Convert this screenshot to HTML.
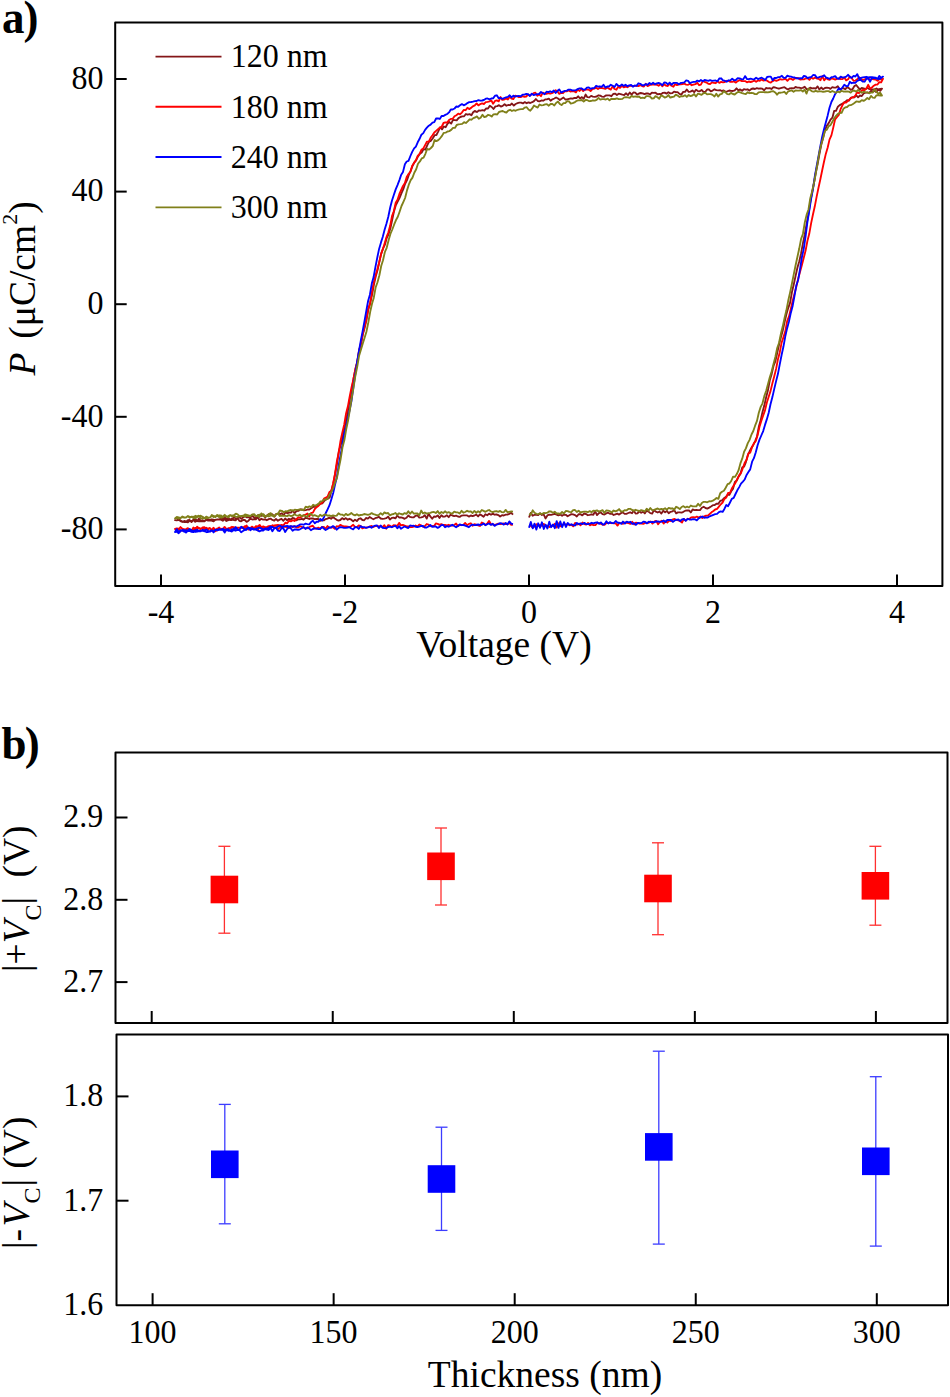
<!DOCTYPE html>
<html><head><meta charset="utf-8"><style>
html,body{margin:0;padding:0;background:#fff;}
svg{display:block;}
text{font-family:"Liberation Serif",serif;fill:#000;}
</style></head><body>
<svg width="950" height="1397" viewBox="0 0 950 1397">
<rect width="950" height="1397" fill="#fff"/>
<rect x="115.2" y="22.6" width="827.1999999999999" height="563.4" fill="none" stroke="#000" stroke-width="2" stroke-linejoin="round"/>
<line x1="115.2" y1="79" x2="126.7" y2="79" stroke="#000" stroke-width="2"/>
<text transform="translate(103.5 88.8) scale(1 1.070)" font-size="32" text-anchor="end" >80</text>
<line x1="115.2" y1="191.6" x2="126.7" y2="191.6" stroke="#000" stroke-width="2"/>
<text transform="translate(103.5 201.4) scale(1 1.070)" font-size="32" text-anchor="end" >40</text>
<line x1="115.2" y1="304.2" x2="126.7" y2="304.2" stroke="#000" stroke-width="2"/>
<text transform="translate(103.5 314.0) scale(1 1.070)" font-size="32" text-anchor="end" >0</text>
<line x1="115.2" y1="416.8" x2="126.7" y2="416.8" stroke="#000" stroke-width="2"/>
<text transform="translate(103.5 426.6) scale(1 1.070)" font-size="32" text-anchor="end" >-40</text>
<line x1="115.2" y1="529.4" x2="126.7" y2="529.4" stroke="#000" stroke-width="2"/>
<text transform="translate(103.5 539.2) scale(1 1.070)" font-size="32" text-anchor="end" >-80</text>
<line x1="161" y1="586" x2="161" y2="574.5" stroke="#000" stroke-width="2"/>
<text transform="translate(161.0 622.5) scale(1 1.070)" font-size="32" text-anchor="middle" >-4</text>
<line x1="345" y1="586" x2="345" y2="574.5" stroke="#000" stroke-width="2"/>
<text transform="translate(345.0 622.5) scale(1 1.070)" font-size="32" text-anchor="middle" >-2</text>
<line x1="529" y1="586" x2="529" y2="574.5" stroke="#000" stroke-width="2"/>
<text transform="translate(529.0 622.5) scale(1 1.070)" font-size="32" text-anchor="middle" >0</text>
<line x1="713" y1="586" x2="713" y2="574.5" stroke="#000" stroke-width="2"/>
<text transform="translate(713.0 622.5) scale(1 1.070)" font-size="32" text-anchor="middle" >2</text>
<line x1="897" y1="586" x2="897" y2="574.5" stroke="#000" stroke-width="2"/>
<text transform="translate(897.0 622.5) scale(1 1.070)" font-size="32" text-anchor="middle" >4</text>
<text x="504.0" y="657.0" font-size="37.5" text-anchor="middle" >Voltage (V)</text>
<text transform="translate(34.8,375.5) rotate(-90)" font-size="37.5"><tspan font-style="italic">P</tspan><tspan dx="4.5"> (μC/cm</tspan><tspan font-size="22" dy="-18">2</tspan><tspan dy="18">)</tspan></text>
<text transform="translate(2 33.4) scale(1 1.04)" font-size="45" font-weight="bold" letter-spacing="-1">a)</text>
<line x1="155.5" y1="56.6" x2="221.5" y2="56.6" stroke="#841618" stroke-width="1.9"/>
<text transform="translate(230.7 67.3) scale(1 1.070)" font-size="32" text-anchor="start" >120 nm</text>
<line x1="155.5" y1="106.8" x2="221.5" y2="106.8" stroke="#ff0000" stroke-width="1.9"/>
<text transform="translate(230.7 117.5) scale(1 1.070)" font-size="32" text-anchor="start" >180 nm</text>
<line x1="155.5" y1="157" x2="221.5" y2="157" stroke="#0000ff" stroke-width="1.9"/>
<text transform="translate(230.7 167.7) scale(1 1.070)" font-size="32" text-anchor="start" >240 nm</text>
<line x1="155.5" y1="207.4" x2="221.5" y2="207.4" stroke="#80801a" stroke-width="1.9"/>
<text transform="translate(230.7 218.1) scale(1 1.070)" font-size="32" text-anchor="start" >300 nm</text>
<path d="M529.0 517.5L530.8 512.9L532.7 515.8L534.5 514.8L536.4 514.9L538.2 515.1L540.0 513.3L541.9 515.0L543.7 514.3L545.5 518.5L547.4 515.4L549.2 514.7L551.1 514.8L552.9 514.4L554.7 513.9L556.6 514.6L558.4 515.4L560.3 514.6L562.1 515.8L563.9 514.6L565.8 514.8L567.6 516.3L569.4 515.2L571.3 514.1L573.1 514.4L575.0 515.1L576.8 516.5L578.6 514.2L580.5 514.2L582.3 515.4L584.2 513.5L586.0 514.0L587.8 515.2L589.7 514.8L591.5 514.3L593.3 514.8L595.2 511.3L597.0 515.1L598.9 513.1L600.7 512.3L602.5 514.2L604.4 514.6L606.2 513.4L608.1 512.7L609.9 513.8L611.7 513.6L613.6 515.0L615.4 514.3L617.2 513.7L619.1 514.6L620.9 513.2L622.8 512.4L624.6 513.9L626.4 513.8L628.3 513.0L630.1 512.3L632.0 513.3L633.8 510.5L635.6 513.6L637.5 513.4L639.3 511.2L641.2 512.8L643.0 511.7L644.8 513.4L646.7 510.5L648.5 511.6L650.3 513.1L652.2 513.5L654.0 510.1L655.9 511.7L657.7 512.5L659.5 511.5L661.4 513.6L663.2 510.8L665.1 512.3L666.9 510.9L668.7 513.3L670.6 511.8L672.4 511.4L674.2 510.0L676.1 513.4L677.9 512.4L679.8 512.3L681.6 512.6L683.4 511.8L685.3 510.7L687.1 510.5L689.0 510.4L690.8 512.4L692.6 509.5L694.5 510.1L696.3 510.0L698.1 510.2L700.0 510.1L701.8 507.8L703.7 506.8L705.5 508.0L707.3 508.6L709.2 507.6L711.0 506.5L712.9 505.2L714.7 505.1L716.5 503.7L718.4 503.7L720.2 500.9L722.0 500.3L723.9 498.3L725.7 497.1L727.6 494.7L729.4 494.9L731.2 491.3L733.1 488.6L734.9 482.1L736.8 480.6L738.6 476.7L740.4 474.0L742.3 467.3L744.1 466.6L745.9 462.1L747.8 455.3L749.6 451.3L751.5 447.7L753.3 444.9L755.1 441.1L757.0 436.5L758.8 426.8L760.7 420.1L762.5 411.9L764.3 405.6L766.2 397.0L768.0 390.1L769.8 380.3L771.7 373.9L773.5 366.0L775.4 361.1L777.2 353.0L779.0 344.8L780.9 337.3L782.7 330.7L784.6 322.0L786.4 314.2L788.2 308.1L790.1 302.6L791.9 292.3L793.8 284.3L795.6 275.9L797.4 267.7L799.3 261.3L801.1 253.2L802.9 243.4L804.8 234.2L806.6 224.1L808.5 213.8L810.3 201.8L812.1 192.6L814.0 183.0L815.8 172.5L817.7 163.5L819.5 153.5L821.3 144.6L823.2 137.5L825.0 130.0L826.8 125.8L828.7 123.1L830.5 119.7L832.4 117.7L834.2 110.8L836.0 110.8L837.9 106.7L839.7 105.1L841.6 104.1L843.4 103.0L845.2 101.9L847.1 100.1L848.9 100.7L850.7 97.9L852.6 97.2L854.4 97.4L856.3 95.3L858.1 97.3L859.9 95.5L861.8 96.1L863.6 93.4L865.5 92.6L867.3 92.7L869.1 92.8L871.0 91.1L872.8 91.6L874.6 90.9L876.5 92.1L878.3 89.4L880.2 90.8L882.0 88.7L880.2 88.8L878.3 89.7L876.5 88.5L874.6 89.4L872.8 89.4L871.0 89.7L869.1 89.0L867.3 87.8L865.4 89.2L863.6 88.4L861.7 88.0L859.9 89.5L858.1 87.3L856.2 85.0L854.4 86.1L852.5 89.2L850.7 89.9L848.9 88.1L847.0 87.2L845.2 89.3L843.3 88.1L841.5 88.7L839.7 89.4L837.8 86.3L836.0 87.6L834.1 87.6L832.3 87.1L830.4 88.9L828.6 87.8L826.8 87.6L824.9 88.0L823.1 89.2L821.2 87.5L819.4 89.5L817.6 86.4L815.7 88.7L813.9 88.2L812.0 88.3L810.2 87.6L808.4 89.6L806.5 89.0L804.7 86.7L802.8 87.9L801.0 88.2L799.1 87.7L797.3 87.6L795.5 87.0L793.6 88.4L791.8 88.2L789.9 88.3L788.1 89.5L786.3 88.6L784.4 87.2L782.6 87.6L780.7 88.1L778.9 88.7L777.1 88.2L775.2 87.5L773.4 87.1L771.5 89.0L769.7 88.1L767.8 88.4L766.0 88.0L764.2 90.3L762.3 88.7L760.5 88.5L758.6 88.7L756.8 88.2L755.0 89.0L753.1 88.5L751.3 89.0L749.4 90.6L747.6 89.3L745.8 89.6L743.9 89.2L742.1 90.8L740.2 89.4L738.4 90.3L736.5 88.3L734.7 90.3L732.9 91.0L731.0 90.9L729.2 90.5L727.3 91.3L725.5 91.8L723.7 90.5L721.8 91.0L720.0 90.2L718.1 90.3L716.3 90.2L714.5 89.3L712.6 90.6L710.8 91.3L708.9 89.4L707.1 89.5L705.2 92.0L703.4 91.9L701.6 89.9L699.7 91.3L697.9 91.1L696.0 89.8L694.2 92.2L692.4 90.5L690.5 91.6L688.7 91.9L686.8 89.5L685.0 91.9L683.2 91.9L681.3 94.6L679.5 93.9L677.6 92.1L675.8 92.2L674.0 91.7L672.1 93.2L670.3 93.4L668.4 92.2L666.6 93.6L664.7 92.6L662.9 92.8L661.1 94.2L659.2 94.0L657.4 94.3L655.5 92.7L653.7 92.8L651.9 92.6L650.0 94.5L648.2 93.5L646.3 93.5L644.5 94.1L642.7 93.3L640.8 93.0L639.0 93.5L637.1 94.6L635.3 92.7L633.4 92.5L631.6 94.7L629.8 92.5L627.9 95.1L626.1 93.3L624.2 95.0L622.4 94.7L620.6 94.1L618.7 93.7L616.9 95.0L615.0 93.6L613.2 94.0L611.4 96.2L609.5 95.4L607.7 95.4L605.8 95.5L604.0 96.8L602.1 96.7L600.3 95.6L598.5 95.3L596.6 96.5L594.8 96.8L592.9 96.6L591.1 95.9L589.3 97.4L587.4 97.2L585.6 94.6L583.7 98.8L581.9 97.1L580.1 98.5L578.2 96.3L576.4 98.0L574.5 97.9L572.7 98.7L570.8 98.4L569.0 98.8L567.2 99.4L565.3 99.5L563.5 97.5L561.6 98.8L559.8 100.0L558.0 98.5L556.1 97.5L554.3 98.5L552.4 99.3L550.6 100.7L548.8 98.6L546.9 99.3L545.1 99.4L543.2 100.7L541.4 100.5L539.5 101.3L537.7 101.0L535.9 99.0L534.0 101.1L532.2 102.2L530.3 103.0L528.5 102.4L526.7 103.2L524.8 102.1L523.0 103.4L521.1 102.6L519.3 102.6L517.5 103.2L515.6 104.0L513.8 105.6L511.9 103.5L510.1 105.2L508.2 105.0L506.4 105.7L504.6 104.2L502.7 105.9L500.9 106.6L499.0 105.2L497.2 106.1L495.4 106.4L493.5 109.0L491.7 107.0L489.8 105.7L488.0 108.6L486.2 108.4L484.3 110.7L482.5 110.1L480.6 110.7L478.8 110.5L476.9 112.1L475.1 110.9L473.3 112.0L471.4 115.2L469.6 114.1L467.7 114.7L465.9 114.0L464.1 116.3L462.2 116.4L460.4 117.0L458.5 118.1L456.7 120.4L454.9 120.1L453.0 119.9L451.2 123.6L449.3 122.0L447.5 123.8L445.6 127.2L443.8 126.5L442.0 129.4L440.1 127.2L438.3 131.3L436.4 135.0L434.6 135.2L432.8 138.3L430.9 140.8L429.1 141.6L427.2 145.3L425.4 149.7L423.6 149.1L421.7 152.5L419.9 153.7L418.0 156.4L416.2 160.1L414.3 162.3L412.5 166.0L410.7 170.9L408.8 174.9L407.0 180.1L405.1 183.8L403.3 189.2L401.5 193.1L399.6 197.8L397.8 201.3L395.9 205.0L394.1 210.9L392.3 219.2L390.4 228.2L388.6 234.0L386.7 238.1L384.9 244.7L383.0 248.6L381.2 253.6L379.4 261.6L377.5 270.3L375.7 276.6L373.8 285.0L372.0 295.0L370.2 302.9L368.3 309.5L366.5 319.7L364.6 328.1L362.8 334.5L361.0 344.3L359.1 349.9L357.3 361.8L355.4 369.1L353.6 378.1L351.8 389.9L349.9 398.9L348.1 409.7L346.2 420.3L344.4 427.3L342.5 437.9L340.7 445.0L338.9 451.0L337.0 463.6L335.2 473.5L333.3 483.5L331.5 490.4L329.7 497.5L327.8 498.6L326.0 499.3L324.1 501.1L322.3 503.3L320.5 503.8L318.6 504.0L316.8 505.7L314.9 506.8L313.1 506.9L311.2 508.3L309.4 509.5L307.6 509.5L305.7 510.2L303.9 510.3L302.0 509.4L300.2 509.5L298.4 510.9L296.5 511.0L294.7 513.2L292.8 510.6L291.0 512.6L289.2 512.4L287.3 513.3L285.5 512.3L283.6 515.3L281.8 513.3L279.9 514.1L278.1 514.0L276.3 513.9L274.4 516.6L272.6 514.5L270.7 514.0L268.9 514.1L267.1 515.5L265.2 517.3L263.4 515.2L261.5 515.9L259.7 515.6L257.9 515.3L256.0 517.4L254.2 517.5L252.3 515.8L250.5 517.4L248.6 517.3L246.8 517.4L245.0 516.1L243.1 517.5L241.3 518.7L239.4 517.3L237.6 518.3L235.8 518.8L233.9 516.8L232.1 520.1L230.2 520.1L228.4 517.9L226.6 519.0L224.7 517.2L222.9 519.2L221.0 518.6L219.2 519.4L217.3 519.5L215.5 519.8L213.7 519.6L211.8 519.3L210.0 520.3L208.1 519.2L206.3 520.0L204.5 521.3L202.6 520.2L200.8 520.9L198.9 518.6L197.1 521.2L195.3 518.9L193.4 520.3L191.6 520.8L189.7 520.9L187.9 522.4L186.0 521.4L184.2 521.0L182.4 522.0L180.5 521.1L178.7 519.9L176.8 520.4L175.0 520.2L176.8 520.4L178.7 518.9L180.5 520.6L182.3 521.4L184.2 522.0L186.0 522.0L187.9 520.1L189.7 520.0L191.5 522.1L193.4 519.6L195.2 521.8L197.0 520.4L198.9 521.4L200.7 521.2L202.6 521.3L204.4 521.3L206.2 519.4L208.1 520.6L209.9 520.3L211.7 520.6L213.6 521.4L215.4 519.9L217.2 519.4L219.1 519.3L220.9 519.7L222.8 520.7L224.6 519.1L226.4 521.0L228.3 520.1L230.1 519.6L231.9 518.4L233.8 520.0L235.6 520.4L237.5 517.9L239.3 520.8L241.1 521.3L243.0 519.9L244.8 520.0L246.6 521.9L248.5 520.7L250.3 518.6L252.2 519.5L254.0 519.3L255.8 519.3L257.7 517.1L259.5 520.2L261.3 518.8L263.2 519.6L265.0 519.3L266.8 520.2L268.7 519.1L270.5 518.6L272.4 519.9L274.2 520.7L276.0 519.0L277.9 520.7L279.7 519.6L281.5 518.8L283.4 520.8L285.2 518.5L287.1 520.3L288.9 518.8L290.7 519.7L292.6 518.0L294.4 518.4L296.2 520.3L298.1 519.4L299.9 519.3L301.8 518.8L303.6 519.7L305.4 517.8L307.3 518.1L309.1 519.0L310.9 518.4L312.8 518.5L314.6 519.1L316.4 519.0L318.3 518.9L320.1 520.8L322.0 520.1L323.8 520.4L325.6 519.1L327.5 518.6L329.3 517.6L331.1 518.7L333.0 517.0L334.8 518.5L336.7 519.8L338.5 520.6L340.3 520.0L342.2 518.1L344.0 519.4L345.8 518.1L347.7 519.7L349.5 518.8L351.3 519.7L353.2 521.4L355.0 519.7L356.9 521.1L358.7 518.9L360.5 518.3L362.4 520.0L364.2 520.3L366.0 518.0L367.9 518.6L369.7 517.0L371.6 518.2L373.4 519.2L375.2 518.2L377.1 517.7L378.9 516.8L380.7 518.5L382.6 518.9L384.4 518.6L386.2 518.2L388.1 516.6L389.9 519.6L391.8 517.8L393.6 517.6L395.4 518.4L397.3 515.5L399.1 517.5L400.9 517.4L402.8 517.9L404.6 518.8L406.5 517.8L408.3 515.5L410.1 516.9L412.0 517.4L413.8 517.3L415.6 515.8L417.5 515.4L419.3 517.6L421.2 517.3L423.0 516.9L424.8 515.2L426.7 518.6L428.5 513.9L430.3 516.4L432.2 518.8L434.0 516.5L435.8 516.8L437.7 515.4L439.5 517.9L441.4 515.2L443.2 516.7L445.0 516.5L446.9 515.3L448.7 517.2L450.5 514.8L452.4 515.5L454.2 516.1L456.1 515.7L457.9 516.5L459.7 516.9L461.6 515.6L463.4 515.3L465.2 515.3L467.1 515.4L468.9 516.6L470.8 515.5L472.6 516.1L474.4 515.5L476.3 514.7L478.1 516.4L479.9 514.4L481.8 515.4L483.6 516.8L485.4 514.2L487.3 515.2L489.1 513.6L491.0 514.7L492.8 513.6L494.6 514.7L496.5 514.5L498.3 515.1L500.1 516.5L502.0 515.2L503.8 515.5L505.7 514.7L507.5 514.5L509.3 513.9L511.2 512.8L513.0 514.7" fill="none" stroke="#841618" stroke-width="1.85" stroke-linejoin="round"/>
<path d="M529.0 525.3L530.8 525.8L532.7 527.6L534.5 526.5L536.4 524.2L538.2 525.7L540.1 525.1L541.9 525.8L543.8 524.0L545.6 525.8L547.4 525.7L549.3 527.0L551.1 525.7L553.0 525.8L554.8 523.8L556.7 527.5L558.5 523.3L560.3 526.2L562.2 524.8L564.0 524.2L565.9 524.3L567.7 524.3L569.6 525.3L571.4 524.7L573.2 526.3L575.1 522.9L576.9 524.7L578.8 523.7L580.6 525.3L582.5 522.4L584.3 524.1L586.2 524.6L588.0 522.9L589.8 525.3L591.7 524.4L593.5 525.2L595.4 525.1L597.2 523.1L599.1 523.2L600.9 523.8L602.8 524.7L604.6 524.7L606.4 523.1L608.3 523.2L610.1 522.9L612.0 523.1L613.8 523.4L615.7 523.4L617.5 525.6L619.3 523.0L621.2 523.1L623.0 523.8L624.9 522.4L626.7 522.9L628.6 523.2L630.4 523.9L632.2 521.8L634.1 524.4L635.9 522.6L637.8 523.1L639.6 523.7L641.5 523.5L643.3 523.8L645.2 522.9L647.0 522.6L648.8 522.8L650.7 521.5L652.5 523.6L654.4 521.5L656.2 520.9L658.1 524.2L659.9 521.9L661.8 520.7L663.6 523.6L665.4 521.3L667.3 522.6L669.1 520.6L671.0 521.0L672.8 519.4L674.7 519.0L676.5 519.8L678.3 520.5L680.2 521.2L682.0 522.6L683.9 518.9L685.7 520.7L687.6 518.8L689.4 519.0L691.2 517.4L693.1 517.1L694.9 517.5L696.8 516.7L698.6 517.5L700.5 516.5L702.3 518.0L704.2 516.3L706.0 515.6L707.8 515.6L709.7 514.0L711.5 512.3L713.4 511.0L715.2 509.5L717.1 508.9L718.9 506.7L720.8 504.3L722.6 502.5L724.4 498.9L726.3 497.5L728.1 492.9L730.0 492.8L731.8 488.5L733.7 485.6L735.5 482.8L737.3 478.8L739.2 475.1L741.0 472.9L742.9 468.0L744.7 462.8L746.6 459.8L748.4 453.4L750.2 452.6L752.1 447.0L753.9 443.3L755.8 441.0L757.6 435.2L759.5 426.8L761.3 420.9L763.2 415.4L765.0 410.4L766.8 402.7L768.7 396.7L770.5 391.1L772.4 383.2L774.2 376.5L776.1 368.9L777.9 359.6L779.8 352.2L781.6 342.7L783.4 337.4L785.3 331.4L787.1 321.4L789.0 316.4L790.8 308.9L792.7 300.8L794.5 293.7L796.3 286.8L798.2 278.7L800.0 272.1L801.9 265.0L803.7 258.1L805.6 250.6L807.4 241.0L809.2 234.1L811.1 223.4L812.9 214.8L814.8 206.3L816.6 196.9L818.5 187.8L820.3 179.5L822.2 170.2L824.0 161.7L825.8 153.9L827.7 147.5L829.5 139.6L831.4 135.4L833.2 127.9L835.1 119.3L836.9 117.1L838.8 114.9L840.6 109.2L842.4 105.3L844.3 102.3L846.1 102.6L848.0 100.8L849.8 99.1L851.7 97.7L853.5 97.4L855.3 95.6L857.2 92.3L859.0 93.1L860.9 91.3L862.7 90.0L864.6 90.0L866.4 88.5L868.2 84.8L870.1 88.7L871.9 87.5L873.8 85.7L875.6 84.6L877.5 84.5L879.3 82.1L881.2 82.3L883.0 78.8L881.2 79.3L879.3 79.2L877.5 80.7L875.6 79.5L873.8 79.4L872.0 78.8L870.1 79.9L868.3 78.3L866.4 78.7L864.6 79.4L862.8 80.1L860.9 78.8L859.1 77.3L857.3 79.3L855.4 80.6L853.6 80.8L851.7 78.2L849.9 76.6L848.1 79.3L846.2 80.4L844.4 77.5L842.5 79.1L840.7 79.2L838.9 78.3L837.0 78.9L835.2 79.5L833.3 78.9L831.5 78.2L829.7 79.8L827.8 79.3L826.0 78.1L824.2 80.3L822.3 76.1L820.5 80.2L818.6 78.8L816.8 78.5L815.0 77.6L813.1 78.7L811.3 77.5L809.4 79.8L807.6 78.0L805.8 78.5L803.9 79.3L802.1 79.4L800.2 79.5L798.4 78.2L796.6 78.0L794.7 78.5L792.9 79.9L791.1 78.8L789.2 78.8L787.4 80.8L785.5 78.9L783.7 79.4L781.9 79.6L780.0 79.2L778.2 80.1L776.3 80.8L774.5 80.0L772.7 81.1L770.8 82.5L769.0 82.1L767.1 80.7L765.3 80.1L763.5 80.6L761.6 79.5L759.8 80.8L758.0 80.4L756.1 81.8L754.3 80.6L752.4 81.5L750.6 82.0L748.8 81.5L746.9 82.3L745.1 81.1L743.2 81.1L741.4 81.0L739.6 80.2L737.7 81.1L735.9 82.6L734.0 81.4L732.2 81.9L730.4 81.9L728.5 80.9L726.7 80.8L724.8 82.0L723.0 82.3L721.2 81.9L719.3 82.9L717.5 81.1L715.7 83.2L713.8 82.8L712.0 82.4L710.1 84.0L708.3 83.8L706.5 82.5L704.6 81.9L702.8 81.0L700.9 84.6L699.1 85.2L697.3 82.7L695.4 84.2L693.6 84.7L691.7 85.2L689.9 83.8L688.1 84.8L686.2 84.7L684.4 83.6L682.6 84.0L680.7 84.4L678.9 84.3L677.0 85.1L675.2 84.1L673.4 86.8L671.5 85.8L669.7 83.6L667.8 86.0L666.0 85.7L664.2 84.3L662.3 86.3L660.5 84.0L658.6 85.8L656.8 84.8L655.0 84.7L653.1 84.3L651.3 84.6L649.5 85.1L647.6 86.1L645.8 83.7L643.9 86.6L642.1 86.0L640.3 85.1L638.4 86.1L636.6 85.8L634.7 85.8L632.9 86.2L631.1 85.9L629.2 85.9L627.4 87.2L625.5 86.6L623.7 87.4L621.9 85.8L620.0 87.9L618.2 86.8L616.4 89.7L614.5 89.0L612.7 86.2L610.8 89.6L609.0 88.7L607.2 87.4L605.3 88.9L603.5 88.3L601.6 88.0L599.8 87.8L598.0 89.1L596.1 87.7L594.3 88.6L592.4 89.2L590.6 91.0L588.8 89.7L586.9 89.6L585.1 89.4L583.2 91.1L581.4 88.7L579.6 91.0L577.7 89.6L575.9 92.4L574.1 91.3L572.2 91.0L570.4 91.5L568.5 90.4L566.7 91.3L564.9 91.1L563.0 93.2L561.2 92.8L559.3 93.9L557.5 91.4L555.7 90.2L553.8 92.2L552.0 93.1L550.1 93.7L548.3 93.2L546.5 93.9L544.6 93.5L542.8 92.6L541.0 96.2L539.1 94.4L537.3 95.8L535.4 92.6L533.6 93.2L531.8 94.2L529.9 95.6L528.1 94.7L526.2 96.5L524.4 96.9L522.6 96.2L520.7 97.1L518.9 97.2L517.0 96.2L515.2 95.7L513.4 99.1L511.5 98.5L509.7 96.8L507.9 99.5L506.0 98.4L504.2 99.6L502.3 99.9L500.5 97.0L498.7 101.4L496.8 100.4L495.0 100.9L493.1 103.8L491.3 100.4L489.5 101.4L487.6 101.9L485.8 102.2L483.9 104.0L482.1 103.4L480.3 104.1L478.4 105.4L476.6 103.4L474.8 105.4L472.9 106.3L471.1 107.9L469.2 109.1L467.4 107.7L465.6 110.2L463.7 109.9L461.9 112.6L460.0 114.3L458.2 113.6L456.4 115.2L454.5 116.3L452.7 118.8L450.8 118.9L449.0 120.1L447.2 122.5L445.3 122.4L443.5 123.0L441.6 127.0L439.8 127.8L438.0 129.3L436.1 130.9L434.3 132.5L432.5 135.3L430.6 137.8L428.8 141.6L426.9 141.7L425.1 145.1L423.3 148.4L421.4 149.8L419.6 153.9L417.7 155.9L415.9 160.4L414.1 163.0L412.2 165.8L410.4 171.8L408.5 174.0L406.7 177.0L404.9 183.1L403.0 186.0L401.2 190.0L399.4 194.0L397.5 199.7L395.7 202.8L393.8 211.3L392.0 216.1L390.2 225.6L388.3 232.5L386.5 237.1L384.6 243.4L382.8 249.3L381.0 254.4L379.1 262.7L377.3 269.6L375.4 276.0L373.6 283.5L371.8 292.8L369.9 304.3L368.1 309.1L366.3 319.6L364.4 326.9L362.6 334.7L360.7 344.0L358.9 352.5L357.1 362.6L355.2 370.0L353.4 379.4L351.5 387.5L349.7 396.5L347.9 406.3L346.0 413.8L344.2 424.7L342.3 432.8L340.5 440.9L338.7 452.6L336.8 461.8L335.0 474.0L333.2 483.2L331.3 490.7L329.5 491.9L327.6 496.6L325.8 497.7L324.0 498.6L322.1 502.7L320.3 503.8L318.4 506.0L316.6 507.1L314.8 509.0L312.9 512.7L311.1 513.0L309.2 516.5L307.4 513.5L305.6 514.7L303.7 515.3L301.9 516.6L300.0 517.5L298.2 517.3L296.4 519.1L294.5 521.0L292.7 520.2L290.9 521.4L289.0 520.8L287.2 523.3L285.3 522.7L283.5 525.3L281.7 524.9L279.8 525.3L278.0 525.0L276.1 525.1L274.3 525.3L272.5 526.8L270.6 526.0L268.8 526.1L266.9 526.8L265.1 527.3L263.3 526.4L261.4 527.4L259.6 524.9L257.8 526.5L255.9 526.2L254.1 528.3L252.2 526.6L250.4 528.0L248.6 528.4L246.7 526.3L244.9 526.1L243.0 528.0L241.2 527.6L239.4 527.6L237.5 527.6L235.7 527.8L233.8 527.1L232.0 526.8L230.2 527.8L228.3 528.6L226.5 530.3L224.7 530.0L222.8 528.6L221.0 528.9L219.1 528.6L217.3 528.5L215.5 530.2L213.6 527.7L211.8 529.9L209.9 528.1L208.1 529.5L206.3 528.9L204.4 527.2L202.6 527.4L200.7 529.2L198.9 528.5L197.1 526.7L195.2 530.1L193.4 527.4L191.6 530.6L189.7 529.8L187.9 528.2L186.0 529.1L184.2 529.7L182.4 530.6L180.5 530.4L178.7 528.6L176.8 528.4L175.0 529.0L176.8 530.3L178.7 529.4L180.5 527.1L182.3 528.7L184.2 529.3L186.0 531.3L187.9 529.8L189.7 530.0L191.5 529.9L193.4 530.4L195.2 527.9L197.0 528.2L198.9 527.8L200.7 528.6L202.6 528.5L204.4 529.0L206.2 527.8L208.1 528.9L209.9 527.9L211.7 530.8L213.6 528.1L215.4 531.2L217.2 530.2L219.1 527.4L220.9 529.5L222.8 529.1L224.6 526.9L226.4 529.0L228.3 528.3L230.1 528.7L231.9 527.5L233.8 528.2L235.6 528.7L237.5 528.0L239.3 527.6L241.1 528.0L243.0 527.2L244.8 528.4L246.6 525.5L248.5 529.6L250.3 528.1L252.2 528.5L254.0 528.8L255.8 526.7L257.7 530.2L259.5 526.8L261.3 528.3L263.2 528.2L265.0 529.1L266.8 527.8L268.7 526.4L270.5 528.1L272.4 525.3L274.2 527.5L276.0 527.2L277.9 529.3L279.7 527.4L281.5 527.2L283.4 526.9L285.2 526.8L287.1 527.0L288.9 528.2L290.7 526.2L292.6 527.3L294.4 526.1L296.2 527.3L298.1 527.6L299.9 526.2L301.8 526.9L303.6 527.5L305.4 528.2L307.3 528.3L309.1 527.3L310.9 526.3L312.8 525.7L314.6 528.1L316.4 528.7L318.3 527.6L320.1 528.8L322.0 526.8L323.8 526.8L325.6 528.8L327.5 526.1L329.3 527.7L331.1 527.5L333.0 527.2L334.8 528.8L336.7 526.2L338.5 526.6L340.3 524.9L342.2 525.9L344.0 526.4L345.8 526.5L347.7 526.7L349.5 527.2L351.3 526.2L353.2 524.8L355.0 526.9L356.9 527.2L358.7 525.5L360.5 525.9L362.4 528.4L364.2 527.6L366.0 527.7L367.9 527.2L369.7 526.6L371.6 526.0L373.4 527.0L375.2 526.2L377.1 525.9L378.9 526.3L380.7 526.2L382.6 527.1L384.4 525.2L386.2 528.7L388.1 525.1L389.9 525.7L391.8 527.0L393.6 525.2L395.4 525.5L397.3 526.0L399.1 522.9L400.9 525.4L402.8 524.9L404.6 525.6L406.5 526.3L408.3 526.4L410.1 527.2L412.0 527.1L413.8 526.7L415.6 525.5L417.5 526.6L419.3 524.5L421.2 525.4L423.0 526.9L424.8 526.2L426.7 524.0L428.5 524.7L430.3 526.2L432.2 525.9L434.0 526.3L435.8 523.4L437.7 523.9L439.5 524.9L441.4 524.1L443.2 525.0L445.0 525.0L446.9 525.3L448.7 524.8L450.5 525.5L452.4 525.7L454.2 525.0L456.1 523.6L457.9 526.1L459.7 525.0L461.6 525.1L463.4 524.9L465.2 523.0L467.1 525.2L468.9 523.9L470.8 523.3L472.6 525.8L474.4 524.2L476.3 524.7L478.1 525.3L479.9 526.0L481.8 522.5L483.6 523.5L485.4 524.9L487.3 523.5L489.1 520.9L491.0 524.3L492.8 524.3L494.6 524.9L496.5 524.3L498.3 523.6L500.1 524.2L502.0 523.9L503.8 523.4L505.7 524.1L507.5 524.2L509.3 522.8L511.2 524.8L513.0 524.6" fill="none" stroke="#ff0000" stroke-width="1.85" stroke-linejoin="round"/>
<path d="M529.0 527.8L530.8 522.0L532.7 528.3L534.5 523.7L536.4 529.6L538.2 523.3L540.1 527.8L541.9 522.3L543.8 529.0L545.6 524.7L547.4 528.5L549.3 521.7L551.1 527.2L553.0 524.5L554.8 528.2L556.7 521.1L558.5 527.9L560.3 521.5L562.2 527.2L564.0 522.1L565.9 527.0L567.7 523.0L569.6 524.9L571.4 524.3L573.2 525.2L575.1 525.5L576.9 522.9L578.8 524.2L580.6 523.4L582.5 524.1L584.3 522.9L586.2 524.1L588.0 524.0L589.8 523.6L591.7 522.8L593.5 523.4L595.4 522.6L597.2 522.3L599.1 523.8L600.9 522.4L602.8 524.6L604.6 524.1L606.4 521.3L608.3 523.5L610.1 522.1L612.0 523.2L613.8 523.1L615.7 521.0L617.5 522.7L619.3 522.7L621.2 523.8L623.0 521.6L624.9 523.5L626.7 521.6L628.6 522.3L630.4 521.8L632.2 524.0L634.1 523.1L635.9 524.9L637.8 523.0L639.6 523.2L641.5 523.1L643.3 521.6L645.2 522.0L647.0 523.4L648.8 521.6L650.7 522.1L652.5 521.8L654.4 522.4L656.2 521.3L658.1 521.5L659.9 521.8L661.8 521.6L663.6 520.5L665.4 522.2L667.3 519.9L669.1 520.0L671.0 519.8L672.8 521.9L674.7 520.5L676.5 519.8L678.3 519.5L680.2 521.0L682.0 519.4L683.9 519.0L685.7 520.8L687.6 518.8L689.4 519.5L691.2 519.7L693.1 519.1L694.9 519.3L696.8 520.4L698.6 518.4L700.5 517.4L702.3 516.5L704.2 517.8L706.0 517.3L707.8 517.5L709.7 516.3L711.5 515.7L713.4 514.8L715.2 514.2L717.1 513.9L718.9 512.2L720.8 511.4L722.6 511.9L724.4 508.9L726.3 505.0L728.1 506.2L730.0 502.5L731.8 498.8L733.7 497.9L735.5 494.0L737.3 490.3L739.2 487.1L741.0 483.6L742.9 481.6L744.7 479.5L746.6 474.9L748.4 472.0L750.2 469.4L752.1 461.7L753.9 458.2L755.8 452.2L757.6 445.3L759.5 439.6L761.3 435.5L763.2 431.1L765.0 424.9L766.8 419.4L768.7 412.7L770.5 404.3L772.4 397.1L774.2 389.1L776.1 381.1L777.9 374.1L779.8 364.2L781.6 355.0L783.4 346.8L785.3 336.4L787.1 328.4L789.0 321.2L790.8 312.9L792.7 305.7L794.5 295.8L796.3 285.5L798.2 279.7L800.0 269.3L801.9 257.2L803.7 249.1L805.6 236.3L807.4 222.2L809.2 211.1L811.1 198.8L812.9 189.5L814.8 176.3L816.6 166.3L818.5 156.2L820.3 146.5L822.2 136.8L824.0 129.3L825.8 122.6L827.7 115.4L829.5 107.7L831.4 102.0L833.2 98.5L835.1 94.2L836.9 91.5L838.8 88.1L840.6 89.8L842.4 87.5L844.3 84.8L846.1 86.1L848.0 86.0L849.8 81.8L851.7 83.2L853.5 82.7L855.3 82.8L857.2 80.9L859.0 80.1L860.9 80.0L862.7 81.6L864.6 81.7L866.4 78.8L868.2 78.3L870.1 81.7L871.9 77.8L873.8 78.0L875.6 78.4L877.5 78.6L879.3 79.0L881.2 78.1L883.0 76.6L881.2 77.8L879.3 76.0L877.5 79.0L875.6 77.6L873.8 77.4L872.0 77.2L870.1 77.1L868.3 77.3L866.4 76.8L864.6 77.1L862.8 77.4L860.9 77.9L859.1 78.6L857.3 74.1L855.4 76.5L853.6 75.9L851.7 77.9L849.9 76.9L848.1 74.8L846.2 76.7L844.4 77.3L842.5 77.5L840.7 76.6L838.9 78.9L837.0 78.4L835.2 76.1L833.3 76.9L831.5 77.2L829.7 78.8L827.8 78.1L826.0 77.5L824.2 75.3L822.3 76.6L820.5 76.7L818.6 77.4L816.8 77.7L815.0 75.1L813.1 75.0L811.3 77.0L809.4 77.3L807.6 78.2L805.8 76.5L803.9 75.9L802.1 78.4L800.2 78.2L798.4 78.5L796.6 78.4L794.7 77.5L792.9 77.3L791.1 76.7L789.2 76.5L787.4 75.6L785.5 77.9L783.7 77.9L781.9 75.8L780.0 77.0L778.2 77.2L776.3 78.0L774.5 77.9L772.7 80.2L770.8 76.6L769.0 76.7L767.1 77.0L765.3 80.0L763.5 78.8L761.6 77.7L759.8 78.4L758.0 79.1L756.1 77.8L754.3 79.3L752.4 79.1L750.6 78.7L748.8 79.2L746.9 79.1L745.1 76.1L743.2 79.4L741.4 79.1L739.6 78.3L737.7 78.2L735.9 80.0L734.0 80.2L732.2 78.6L730.4 80.4L728.5 80.3L726.7 81.7L724.8 80.7L723.0 80.4L721.2 78.3L719.3 78.5L717.5 81.3L715.7 80.5L713.8 80.6L712.0 80.9L710.1 80.1L708.3 80.9L706.5 80.4L704.6 80.0L702.8 81.2L700.9 80.0L699.1 81.4L697.3 80.6L695.4 81.9L693.6 81.9L691.7 82.4L689.9 83.2L688.1 80.9L686.2 80.4L684.4 82.3L682.6 82.7L680.7 83.0L678.9 84.2L677.0 82.9L675.2 82.8L673.4 83.0L671.5 84.7L669.7 82.6L667.8 84.2L666.0 82.7L664.2 82.4L662.3 85.3L660.5 83.6L658.6 83.0L656.8 83.3L655.0 84.2L653.1 82.8L651.3 84.2L649.5 83.0L647.6 84.9L645.8 84.1L643.9 85.2L642.1 85.2L640.3 83.8L638.4 83.3L636.6 85.9L634.7 85.4L632.9 86.7L631.1 85.0L629.2 85.4L627.4 86.2L625.5 84.7L623.7 85.9L621.9 84.5L620.0 86.0L618.2 85.7L616.4 84.0L614.5 87.0L612.7 85.7L610.8 84.7L609.0 86.5L607.2 86.5L605.3 87.6L603.5 84.8L601.6 86.9L599.8 86.3L598.0 86.6L596.1 85.8L594.3 88.0L592.4 88.2L590.6 88.9L588.8 87.4L586.9 87.7L585.1 89.7L583.2 89.5L581.4 88.4L579.6 88.4L577.7 89.2L575.9 90.1L574.1 90.3L572.2 90.3L570.4 89.6L568.5 89.6L566.7 90.7L564.9 90.9L563.0 91.6L561.2 92.6L559.3 89.4L557.5 90.8L555.7 93.0L553.8 90.5L552.0 92.1L550.1 91.3L548.3 92.1L546.5 91.7L544.6 94.2L542.8 93.2L541.0 92.0L539.1 94.0L537.3 94.2L535.4 94.5L533.6 95.1L531.8 93.7L529.9 96.0L528.1 94.2L526.2 93.9L524.4 94.6L522.6 94.7L520.7 96.3L518.9 95.9L517.0 96.1L515.2 96.6L513.4 95.7L511.5 97.4L509.7 95.3L507.9 96.9L506.0 97.3L504.2 98.0L502.3 98.8L500.5 98.0L498.7 98.2L496.8 95.3L495.0 95.7L493.1 98.4L491.3 98.5L489.5 99.3L487.6 98.5L485.8 98.7L483.9 100.0L482.1 100.5L480.3 100.7L478.4 100.2L476.6 101.0L474.8 101.1L472.9 101.6L471.1 102.0L469.2 102.2L467.4 103.1L465.6 104.4L463.7 105.3L461.9 104.1L460.0 105.3L458.2 106.8L456.4 106.5L454.5 108.5L452.7 109.5L450.8 109.4L449.0 112.4L447.2 114.0L445.3 114.9L443.5 116.0L441.6 116.0L439.8 119.0L438.0 118.3L436.1 118.5L434.3 122.2L432.5 122.6L430.6 124.6L428.8 125.7L426.9 127.7L425.1 129.9L423.3 133.1L421.4 134.7L419.6 138.8L417.7 142.3L415.9 146.6L414.1 148.4L412.2 151.9L410.4 156.0L408.5 160.8L406.7 161.5L404.9 164.3L403.0 171.9L401.2 174.7L399.4 180.1L397.5 185.1L395.7 189.4L393.8 195.0L392.0 200.5L390.2 207.5L388.3 216.8L386.5 223.5L384.6 229.7L382.8 236.8L381.0 242.4L379.1 248.9L377.3 257.5L375.4 267.1L373.6 277.1L371.8 283.6L369.9 294.7L368.1 301.0L366.3 310.8L364.4 321.6L362.6 331.3L360.7 341.1L358.9 351.5L357.1 362.0L355.2 374.9L353.4 387.2L351.5 400.9L349.7 409.9L347.9 418.1L346.0 427.3L344.2 433.7L342.3 445.7L340.5 455.4L338.7 465.3L336.8 477.5L335.0 484.9L333.2 493.0L331.3 499.5L329.5 505.2L327.6 509.3L325.8 513.0L324.0 517.1L322.1 520.5L320.3 518.9L318.4 521.7L316.6 521.7L314.8 523.3L312.9 520.8L311.1 522.1L309.2 524.4L307.4 524.1L305.6 523.6L303.7 524.7L301.9 524.4L300.0 524.4L298.2 525.7L296.4 526.5L294.5 526.3L292.7 526.5L290.9 526.1L289.0 526.3L287.2 525.9L285.3 526.1L283.5 526.4L281.7 527.1L279.8 525.6L278.0 526.5L276.1 527.6L274.3 528.3L272.5 527.0L270.6 526.6L268.8 527.8L266.9 528.7L265.1 528.5L263.3 529.6L261.4 528.3L259.6 527.7L257.8 528.2L255.9 529.0L254.1 529.4L252.2 528.2L250.4 528.4L248.6 527.7L246.7 528.6L244.9 530.0L243.0 527.9L241.2 526.7L239.4 530.0L237.5 529.3L235.7 527.1L233.8 530.5L232.0 529.2L230.2 530.8L228.3 530.8L226.5 529.4L224.7 532.5L222.8 529.7L221.0 529.9L219.1 529.1L217.3 529.9L215.5 529.9L213.6 531.3L211.8 530.5L209.9 531.1L208.1 532.0L206.3 532.2L204.4 530.3L202.6 529.8L200.7 531.4L198.9 531.3L197.1 529.7L195.2 532.0L193.4 530.8L191.6 530.3L189.7 528.9L187.9 530.5L186.0 532.6L184.2 530.1L182.4 529.9L180.5 531.3L178.7 533.2L176.8 531.7L175.0 532.0L176.8 529.1L178.7 532.0L180.5 530.4L182.3 530.5L184.2 531.7L186.0 530.1L187.9 531.2L189.7 531.0L191.5 531.8L193.4 532.0L195.2 530.1L197.0 531.8L198.9 530.7L200.7 530.9L202.6 530.5L204.4 531.4L206.2 529.4L208.1 530.8L209.9 531.7L211.7 530.2L213.6 532.4L215.4 529.6L217.2 530.5L219.1 529.8L220.9 529.6L222.8 529.0L224.6 529.6L226.4 530.0L228.3 529.2L230.1 530.9L231.9 531.5L233.8 528.4L235.6 530.7L237.5 530.0L239.3 530.0L241.1 532.2L243.0 530.9L244.8 530.0L246.6 529.8L248.5 527.4L250.3 530.3L252.2 528.8L254.0 529.7L255.8 529.6L257.7 530.4L259.5 531.4L261.3 530.3L263.2 530.6L265.0 529.0L266.8 529.7L268.7 530.0L270.5 527.7L272.4 531.2L274.2 528.4L276.0 527.8L277.9 530.7L279.7 531.1L281.5 528.3L283.4 528.3L285.2 532.0L287.1 529.0L288.9 526.9L290.7 528.2L292.6 530.8L294.4 529.4L296.2 529.5L298.1 529.9L299.9 529.3L301.8 528.3L303.6 527.0L305.4 529.0L307.3 527.4L309.1 528.4L310.9 530.2L312.8 529.0L314.6 528.5L316.4 528.4L318.3 529.1L320.1 529.2L322.0 527.0L323.8 528.5L325.6 530.0L327.5 529.0L329.3 527.4L331.1 527.5L333.0 526.1L334.8 527.3L336.7 529.7L338.5 528.0L340.3 527.1L342.2 527.4L344.0 527.8L345.8 527.8L347.7 527.5L349.5 527.1L351.3 528.5L353.2 529.3L355.0 527.2L356.9 527.2L358.7 528.9L360.5 526.2L362.4 527.1L364.2 527.2L366.0 527.8L367.9 527.3L369.7 526.6L371.6 527.8L373.4 526.3L375.2 525.7L377.1 525.4L378.9 528.1L380.7 525.6L382.6 527.8L384.4 528.0L386.2 528.1L388.1 527.0L389.9 526.6L391.8 527.2L393.6 526.5L395.4 525.8L397.3 528.3L399.1 526.1L400.9 528.8L402.8 527.5L404.6 526.5L406.5 527.3L408.3 528.1L410.1 525.4L412.0 525.8L413.8 525.7L415.6 526.8L417.5 527.0L419.3 526.6L421.2 525.8L423.0 526.0L424.8 527.6L426.7 527.5L428.5 526.5L430.3 525.0L432.2 526.9L434.0 526.5L435.8 526.4L437.7 527.9L439.5 526.9L441.4 525.1L443.2 525.0L445.0 527.3L446.9 526.1L448.7 526.7L450.5 525.7L452.4 524.8L454.2 526.0L456.1 527.2L457.9 526.0L459.7 524.4L461.6 525.2L463.4 525.0L465.2 525.6L467.1 526.4L468.9 527.2L470.8 525.4L472.6 524.7L474.4 525.2L476.3 525.0L478.1 524.5L479.9 524.9L481.8 524.8L483.6 523.5L485.4 525.2L487.3 524.2L489.1 523.5L491.0 524.9L492.8 523.8L494.6 525.9L496.5 524.6L498.3 524.1L500.1 523.2L502.0 523.5L503.8 524.6L505.7 523.0L507.5 524.4L509.3 521.4L511.2 523.7L513.0 524.2" fill="none" stroke="#0000ff" stroke-width="1.85" stroke-linejoin="round"/>
<path d="M529.0 514.1L530.8 514.7L532.7 510.3L534.5 512.7L536.4 513.8L538.2 514.1L540.0 513.3L541.9 514.1L543.7 512.9L545.5 513.1L547.4 512.7L549.2 511.3L551.1 511.5L552.9 512.7L554.7 511.7L556.6 513.5L558.4 513.5L560.3 513.9L562.1 512.0L563.9 513.4L565.8 511.0L567.6 511.1L569.4 511.9L571.3 512.1L573.1 510.1L575.0 510.0L576.8 512.0L578.6 510.7L580.5 512.7L582.3 511.9L584.2 511.7L586.0 511.6L587.8 512.2L589.7 511.1L591.5 512.3L593.3 510.7L595.2 510.9L597.0 510.4L598.9 511.6L600.7 511.0L602.5 510.1L604.4 512.9L606.2 510.5L608.1 510.7L609.9 511.2L611.7 512.5L613.6 510.5L615.4 511.4L617.2 510.7L619.1 509.1L620.9 511.3L622.8 511.5L624.6 510.2L626.4 510.4L628.3 508.9L630.1 508.8L632.0 509.9L633.8 510.9L635.6 509.8L637.5 510.5L639.3 511.1L641.2 510.2L643.0 510.6L644.8 511.5L646.7 508.7L648.5 510.7L650.3 508.0L652.2 510.2L654.0 509.9L655.9 509.1L657.7 508.5L659.5 509.5L661.4 509.0L663.2 509.4L665.1 508.3L666.9 509.7L668.7 507.9L670.6 508.5L672.4 508.3L674.2 509.8L676.1 506.8L677.9 507.7L679.8 509.1L681.6 507.0L683.4 506.2L685.3 507.5L687.1 506.7L689.0 507.5L690.8 505.5L692.6 506.3L694.5 506.4L696.3 506.4L698.1 503.8L700.0 505.9L701.8 503.0L703.7 501.8L705.5 501.8L707.3 502.3L709.2 501.2L711.0 501.3L712.9 500.6L714.7 499.5L716.5 498.0L718.4 498.9L720.2 493.3L722.0 491.7L723.9 490.7L725.7 487.7L727.6 484.1L729.4 483.5L731.2 481.0L733.1 476.6L734.9 476.9L736.8 474.1L738.6 470.2L740.4 463.4L742.3 458.4L744.1 451.7L745.9 448.4L747.8 443.1L749.6 439.9L751.5 434.5L753.3 431.0L755.1 425.7L757.0 420.9L758.8 412.7L760.7 406.9L762.5 403.3L764.3 396.1L766.2 390.7L768.0 384.1L769.8 377.3L771.7 371.2L773.5 363.9L775.4 356.7L777.2 348.0L779.0 343.0L780.9 333.6L782.7 326.6L784.6 317.6L786.4 310.3L788.2 300.8L790.1 292.4L791.9 283.7L793.8 274.1L795.6 265.3L797.4 257.0L799.3 248.3L801.1 238.9L802.9 234.0L804.8 222.4L806.6 214.9L808.5 209.5L810.3 198.2L812.1 191.4L814.0 182.9L815.8 173.4L817.7 162.3L819.5 151.9L821.3 144.0L823.2 137.5L825.0 130.7L826.8 129.7L828.7 126.1L830.5 125.1L832.4 121.8L834.2 118.2L836.0 115.9L837.9 113.9L839.7 113.0L841.6 112.9L843.4 108.8L845.2 107.4L847.1 107.0L848.9 105.4L850.7 105.2L852.6 104.2L854.4 103.0L856.3 101.5L858.1 101.7L859.9 101.7L861.8 100.1L863.6 100.9L865.5 99.7L867.3 98.0L869.1 99.3L871.0 95.9L872.8 97.7L874.6 97.9L876.5 95.3L878.3 95.0L880.2 95.5L882.0 95.5L880.2 92.7L878.3 93.5L876.5 92.1L874.6 89.2L872.8 92.6L871.0 92.7L869.1 93.3L867.3 92.3L865.4 92.4L863.6 91.7L861.7 92.8L859.9 91.5L858.1 89.9L856.2 91.7L854.4 90.6L852.5 90.9L850.7 92.6L848.9 91.7L847.0 91.4L845.2 91.7L843.3 91.5L841.5 90.8L839.7 92.4L837.8 91.6L836.0 92.8L834.1 91.8L832.3 91.0L830.4 92.1L828.6 91.1L826.8 91.1L824.9 91.5L823.1 91.8L821.2 91.4L819.4 91.4L817.6 91.5L815.7 90.9L813.9 91.7L812.0 91.3L810.2 89.9L808.4 88.5L806.5 93.6L804.7 89.6L802.8 91.5L801.0 90.1L799.1 90.6L797.3 90.6L795.5 90.5L793.6 91.8L791.8 90.4L789.9 90.8L788.1 91.5L786.3 93.9L784.4 91.8L782.6 92.4L780.7 92.7L778.9 92.7L777.1 94.7L775.2 92.4L773.4 91.2L771.5 91.4L769.7 92.0L767.8 92.4L766.0 92.2L764.2 92.2L762.3 92.1L760.5 92.2L758.6 92.4L756.8 94.2L755.0 94.1L753.1 93.1L751.3 92.8L749.4 93.2L747.6 92.3L745.8 94.0L743.9 93.6L742.1 93.1L740.2 92.4L738.4 91.8L736.5 93.0L734.7 94.5L732.9 94.0L731.0 92.9L729.2 94.3L727.3 94.1L725.5 92.4L723.7 91.3L721.8 93.9L720.0 94.3L718.1 96.6L716.3 93.8L714.5 96.5L712.6 94.9L710.8 94.1L708.9 94.1L707.1 94.4L705.2 92.8L703.4 93.3L701.6 94.9L699.7 94.1L697.9 93.7L696.0 96.5L694.2 94.1L692.4 95.5L690.5 96.1L688.7 95.0L686.8 96.9L685.0 95.2L683.2 96.3L681.3 96.1L679.5 97.0L677.6 95.6L675.8 94.6L674.0 96.6L672.1 97.0L670.3 97.6L668.4 95.1L666.6 96.9L664.7 97.6L662.9 96.2L661.1 95.4L659.2 98.7L657.4 97.2L655.5 96.1L653.7 98.4L651.9 98.5L650.0 96.6L648.2 96.2L646.3 96.1L644.5 98.1L642.7 97.7L640.8 98.1L639.0 96.5L637.1 96.8L635.3 96.4L633.4 96.8L631.6 95.9L629.8 97.9L627.9 97.3L626.1 97.1L624.2 97.4L622.4 98.9L620.6 99.1L618.7 99.1L616.9 98.4L615.0 99.0L613.2 99.0L611.4 98.8L609.5 100.3L607.7 98.6L605.8 99.5L604.0 99.1L602.1 99.1L600.3 99.6L598.5 97.9L596.6 99.9L594.8 100.6L592.9 100.3L591.1 101.0L589.3 101.2L587.4 100.2L585.6 100.0L583.7 101.6L581.9 100.0L580.1 100.3L578.2 100.3L576.4 101.0L574.5 102.4L572.7 103.2L570.8 103.6L569.0 101.4L567.2 101.2L565.3 103.0L563.5 103.1L561.6 105.1L559.8 103.9L558.0 101.6L556.1 102.9L554.3 105.6L552.4 103.9L550.6 104.0L548.8 105.7L546.9 104.1L545.1 104.3L543.2 105.1L541.4 105.3L539.5 104.5L537.7 107.6L535.9 106.7L534.0 105.4L532.2 108.4L530.3 110.7L528.5 109.5L526.7 107.2L524.8 107.6L523.0 109.0L521.1 109.2L519.3 109.4L517.5 109.8L515.6 110.8L513.8 110.2L511.9 111.0L510.1 109.8L508.2 110.6L506.4 112.6L504.6 112.0L502.7 111.0L500.9 111.4L499.0 112.0L497.2 114.5L495.4 114.1L493.5 114.3L491.7 116.6L489.8 115.3L488.0 114.8L486.2 116.5L484.3 117.1L482.5 114.8L480.6 117.8L478.8 118.8L476.9 116.4L475.1 117.5L473.3 118.1L471.4 119.7L469.6 119.3L467.7 121.4L465.9 123.0L464.1 122.2L462.2 123.9L460.4 124.2L458.5 124.4L456.7 125.0L454.9 127.9L453.0 127.9L451.2 129.9L449.3 131.1L447.5 131.5L445.6 132.7L443.8 132.8L442.0 135.9L440.1 138.3L438.3 140.1L436.4 141.1L434.6 140.0L432.8 146.0L430.9 148.0L429.1 149.6L427.2 149.0L425.4 153.8L423.6 157.7L421.7 158.4L419.9 161.4L418.0 163.8L416.2 169.3L414.3 172.8L412.5 177.6L410.7 180.1L408.8 184.7L407.0 190.4L405.1 198.0L403.3 202.1L401.5 206.0L399.6 211.7L397.8 216.8L395.9 220.3L394.1 224.7L392.3 229.5L390.4 233.9L388.6 240.2L386.7 247.8L384.9 252.0L383.0 260.2L381.2 266.0L379.4 275.2L377.5 282.2L375.7 287.2L373.8 297.7L372.0 303.8L370.2 311.8L368.3 322.5L366.5 331.4L364.6 337.7L362.8 343.5L361.0 349.5L359.1 355.7L357.3 366.3L355.4 375.7L353.6 387.0L351.8 397.5L349.9 409.7L348.1 420.3L346.2 429.3L344.4 440.1L342.5 447.3L340.7 458.7L338.9 467.8L337.0 477.7L335.2 482.1L333.3 487.9L331.5 491.8L329.7 494.3L327.8 498.7L326.0 499.6L324.1 499.3L322.3 501.2L320.5 501.4L318.6 503.9L316.8 504.9L314.9 505.8L313.1 504.7L311.2 507.2L309.4 506.4L307.6 507.3L305.7 506.7L303.9 509.8L302.0 510.0L300.2 509.4L298.4 509.7L296.5 509.8L294.7 509.7L292.8 510.9L291.0 510.0L289.2 510.4L287.3 511.4L285.5 511.2L283.6 512.3L281.8 510.8L279.9 510.5L278.1 513.7L276.3 514.5L274.4 515.3L272.6 515.8L270.7 513.1L268.9 514.1L267.1 515.6L265.2 516.3L263.4 514.2L261.5 514.2L259.7 514.6L257.9 515.2L256.0 516.3L254.2 514.2L252.3 514.5L250.5 516.1L248.6 515.5L246.8 514.9L245.0 514.4L243.1 515.9L241.3 516.0L239.4 516.2L237.6 514.3L235.8 513.6L233.9 515.2L232.1 515.7L230.2 515.0L228.4 516.1L226.6 516.7L224.7 514.8L222.9 516.5L221.0 517.7L219.2 515.3L217.3 516.2L215.5 516.1L213.7 517.0L211.8 515.0L210.0 517.7L208.1 517.8L206.3 518.4L204.5 518.4L202.6 518.3L200.8 518.4L198.9 515.7L197.1 516.3L195.3 515.8L193.4 518.1L191.6 516.6L189.7 517.8L187.9 516.0L186.0 517.5L184.2 517.4L182.4 516.5L180.5 518.0L178.7 518.7L176.8 518.1L175.0 518.4L176.8 516.9L178.7 517.3L180.5 518.3L182.3 517.1L184.2 517.7L186.0 517.5L187.9 516.2L189.7 516.9L191.5 517.0L193.4 516.6L195.2 518.3L197.0 517.2L198.9 516.5L200.7 515.7L202.6 516.7L204.4 518.3L206.2 516.6L208.1 517.6L209.9 517.3L211.7 516.3L213.6 515.8L215.4 517.2L217.2 514.9L219.1 517.2L220.9 515.3L222.8 517.3L224.6 516.1L226.4 516.3L228.3 517.4L230.1 515.3L231.9 516.3L233.8 515.9L235.6 516.7L237.5 516.9L239.3 516.4L241.1 516.3L243.0 515.7L244.8 516.6L246.6 515.8L248.5 516.1L250.3 516.1L252.2 514.6L254.0 514.8L255.8 516.1L257.7 515.8L259.5 517.1L261.3 513.4L263.2 516.0L265.0 516.8L266.8 515.8L268.7 516.5L270.5 515.7L272.4 515.6L274.2 516.6L276.0 514.4L277.9 513.4L279.7 516.1L281.5 515.7L283.4 515.7L285.2 515.8L287.1 516.2L288.9 515.1L290.7 516.0L292.6 515.8L294.4 514.3L296.2 515.3L298.1 515.7L299.9 514.6L301.8 516.5L303.6 515.1L305.4 516.2L307.3 516.8L309.1 513.9L310.9 514.0L312.8 515.9L314.6 515.1L316.4 515.8L318.3 517.0L320.1 514.8L322.0 516.1L323.8 514.9L325.6 514.5L327.5 515.6L329.3 515.4L331.1 516.2L333.0 515.4L334.8 515.9L336.7 515.6L338.5 513.3L340.3 514.6L342.2 514.6L344.0 515.8L345.8 513.9L347.7 515.1L349.5 514.4L351.3 513.0L353.2 514.6L355.0 515.4L356.9 514.3L358.7 515.6L360.5 515.0L362.4 514.9L364.2 514.0L366.0 514.3L367.9 514.9L369.7 514.4L371.6 513.1L373.4 514.1L375.2 514.6L377.1 515.3L378.9 514.9L380.7 513.1L382.6 514.7L384.4 512.4L386.2 513.3L388.1 513.0L389.9 515.3L391.8 514.4L393.6 514.0L395.4 513.0L397.3 514.8L399.1 513.3L400.9 514.0L402.8 514.5L404.6 513.1L406.5 513.9L408.3 511.3L410.1 513.8L412.0 511.5L413.8 513.6L415.6 513.4L417.5 513.5L419.3 515.3L421.2 510.5L423.0 513.4L424.8 512.5L426.7 513.6L428.5 513.1L430.3 512.9L432.2 512.2L434.0 512.0L435.8 513.0L437.7 511.1L439.5 513.7L441.4 512.0L443.2 513.0L445.0 511.3L446.9 512.9L448.7 512.2L450.5 513.1L452.4 513.5L454.2 511.7L456.1 512.3L457.9 512.4L459.7 513.6L461.6 510.8L463.4 512.7L465.2 512.0L467.1 510.8L468.9 511.6L470.8 511.3L472.6 513.0L474.4 510.9L476.3 512.8L478.1 511.3L479.9 512.4L481.8 510.0L483.6 510.9L485.4 511.8L487.3 510.7L489.1 510.0L491.0 511.5L492.8 512.2L494.6 511.4L496.5 511.2L498.3 511.8L500.1 510.9L502.0 512.2L503.8 512.3L505.7 509.9L507.5 512.2L509.3 511.8L511.2 511.4L513.0 511.7" fill="none" stroke="#80801a" stroke-width="1.85" stroke-linejoin="round"/>
<rect x="115.5" y="752.5" width="832.0" height="270.5" fill="none" stroke="#000" stroke-width="2" stroke-linejoin="round"/>
<line x1="115.5" y1="817.5" x2="127.5" y2="817.5" stroke="#000" stroke-width="2"/>
<text transform="translate(103.2 827.3) scale(1 1.070)" font-size="32" text-anchor="end" >2.9</text>
<line x1="115.5" y1="899.8" x2="127.5" y2="899.8" stroke="#000" stroke-width="2"/>
<text transform="translate(103.2 909.6) scale(1 1.070)" font-size="32" text-anchor="end" >2.8</text>
<line x1="115.5" y1="982.1" x2="127.5" y2="982.1" stroke="#000" stroke-width="2"/>
<text transform="translate(103.2 991.9) scale(1 1.070)" font-size="32" text-anchor="end" >2.7</text>
<line x1="151.7" y1="1023" x2="151.7" y2="1011" stroke="#000" stroke-width="2"/>
<line x1="332.75" y1="1023" x2="332.75" y2="1011" stroke="#000" stroke-width="2"/>
<line x1="513.8" y1="1023" x2="513.8" y2="1011" stroke="#000" stroke-width="2"/>
<line x1="694.8499999999999" y1="1023" x2="694.8499999999999" y2="1011" stroke="#000" stroke-width="2"/>
<line x1="875.9000000000001" y1="1023" x2="875.9000000000001" y2="1011" stroke="#000" stroke-width="2"/>
<text transform="translate(28.6,972) rotate(-90)" font-size="37.5">|+<tspan font-style="italic">V</tspan><tspan font-size="24" dy="12">C</tspan><tspan dy="-12">|</tspan><tspan dx="10"> (V)</tspan></text>
<text transform="translate(1.5 759) scale(1 1.04)" font-size="45" font-weight="bold" letter-spacing="-1.8">b)</text>
<line x1="224.4" y1="846.3" x2="224.4" y2="933.2" stroke="#ff3030" stroke-width="1.3"/>
<line x1="218.4" y1="846.3" x2="230.4" y2="846.3" stroke="#ff3030" stroke-width="1.3"/>
<line x1="218.4" y1="933.2" x2="230.4" y2="933.2" stroke="#ff3030" stroke-width="1.3"/>
<rect x="210.6" y="875.7" width="27.6" height="27.6" fill="#ff0000"/>
<line x1="441" y1="828" x2="441" y2="905" stroke="#ff3030" stroke-width="1.3"/>
<line x1="435" y1="828" x2="447" y2="828" stroke="#ff3030" stroke-width="1.3"/>
<line x1="435" y1="905" x2="447" y2="905" stroke="#ff3030" stroke-width="1.3"/>
<rect x="427.2" y="852.5" width="27.6" height="27.6" fill="#ff0000"/>
<line x1="658" y1="842.8" x2="658" y2="934.7" stroke="#ff3030" stroke-width="1.3"/>
<line x1="652" y1="842.8" x2="664" y2="842.8" stroke="#ff3030" stroke-width="1.3"/>
<line x1="652" y1="934.7" x2="664" y2="934.7" stroke="#ff3030" stroke-width="1.3"/>
<rect x="644.2" y="874.7" width="27.6" height="27.6" fill="#ff0000"/>
<line x1="875.4" y1="846.3" x2="875.4" y2="925.2" stroke="#ff3030" stroke-width="1.3"/>
<line x1="869.4" y1="846.3" x2="881.4" y2="846.3" stroke="#ff3030" stroke-width="1.3"/>
<line x1="869.4" y1="925.2" x2="881.4" y2="925.2" stroke="#ff3030" stroke-width="1.3"/>
<rect x="861.6" y="872.0" width="27.6" height="27.6" fill="#ff0000"/>
<rect x="116.5" y="1034.5" width="831.5" height="270.70000000000005" fill="none" stroke="#000" stroke-width="2" stroke-linejoin="round"/>
<line x1="116.5" y1="1096.4" x2="128.5" y2="1096.4" stroke="#000" stroke-width="2"/>
<text transform="translate(103.2 1106.2) scale(1 1.070)" font-size="32" text-anchor="end" >1.8</text>
<line x1="116.5" y1="1200.7" x2="128.5" y2="1200.7" stroke="#000" stroke-width="2"/>
<text transform="translate(103.2 1210.5) scale(1 1.070)" font-size="32" text-anchor="end" >1.7</text>
<text transform="translate(103.2 1314.8) scale(1 1.070)" font-size="32" text-anchor="end" >1.6</text>
<line x1="152.6" y1="1305.2" x2="152.6" y2="1293.2" stroke="#000" stroke-width="2"/>
<text transform="translate(152.6 1343.2) scale(1 1.070)" font-size="32" text-anchor="middle" >100</text>
<line x1="333.65" y1="1305.2" x2="333.65" y2="1293.2" stroke="#000" stroke-width="2"/>
<text transform="translate(333.6 1343.2) scale(1 1.070)" font-size="32" text-anchor="middle" >150</text>
<line x1="514.7" y1="1305.2" x2="514.7" y2="1293.2" stroke="#000" stroke-width="2"/>
<text transform="translate(514.7 1343.2) scale(1 1.070)" font-size="32" text-anchor="middle" >200</text>
<line x1="695.75" y1="1305.2" x2="695.75" y2="1293.2" stroke="#000" stroke-width="2"/>
<text transform="translate(695.8 1343.2) scale(1 1.070)" font-size="32" text-anchor="middle" >250</text>
<line x1="876.8000000000001" y1="1305.2" x2="876.8000000000001" y2="1293.2" stroke="#000" stroke-width="2"/>
<text transform="translate(876.8 1343.2) scale(1 1.070)" font-size="32" text-anchor="middle" >300</text>
<text x="545.0" y="1387.0" font-size="37.5" text-anchor="middle" >Thickness (nm)</text>
<text transform="translate(28.6,1249) rotate(-90)" font-size="37.5">|-<tspan font-style="italic" dx="2.5">V</tspan><tspan font-size="24" dy="11">C</tspan><tspan dy="-11" dx="1">|</tspan><tspan dx="1"> (V)</tspan></text>
<line x1="224.8" y1="1104.4" x2="224.8" y2="1223.8" stroke="#3c3cff" stroke-width="1.3"/>
<line x1="218.8" y1="1104.4" x2="230.8" y2="1104.4" stroke="#3c3cff" stroke-width="1.3"/>
<line x1="218.8" y1="1223.8" x2="230.8" y2="1223.8" stroke="#3c3cff" stroke-width="1.3"/>
<rect x="211.0" y="1150.5" width="27.6" height="27.6" fill="#0000ff"/>
<line x1="441.5" y1="1127.2" x2="441.5" y2="1230.4" stroke="#3c3cff" stroke-width="1.3"/>
<line x1="435.5" y1="1127.2" x2="447.5" y2="1127.2" stroke="#3c3cff" stroke-width="1.3"/>
<line x1="435.5" y1="1230.4" x2="447.5" y2="1230.4" stroke="#3c3cff" stroke-width="1.3"/>
<rect x="427.7" y="1165.2" width="27.6" height="27.6" fill="#0000ff"/>
<line x1="658.8" y1="1051.2" x2="658.8" y2="1244.1" stroke="#3c3cff" stroke-width="1.3"/>
<line x1="652.8" y1="1051.2" x2="664.8" y2="1051.2" stroke="#3c3cff" stroke-width="1.3"/>
<line x1="652.8" y1="1244.1" x2="664.8" y2="1244.1" stroke="#3c3cff" stroke-width="1.3"/>
<rect x="645.0" y="1133.1" width="27.6" height="27.6" fill="#0000ff"/>
<line x1="875.8" y1="1076.7" x2="875.8" y2="1246.1" stroke="#3c3cff" stroke-width="1.3"/>
<line x1="869.8" y1="1076.7" x2="881.8" y2="1076.7" stroke="#3c3cff" stroke-width="1.3"/>
<line x1="869.8" y1="1246.1" x2="881.8" y2="1246.1" stroke="#3c3cff" stroke-width="1.3"/>
<rect x="862.0" y="1147.5" width="27.6" height="27.6" fill="#0000ff"/>
</svg></body></html>
